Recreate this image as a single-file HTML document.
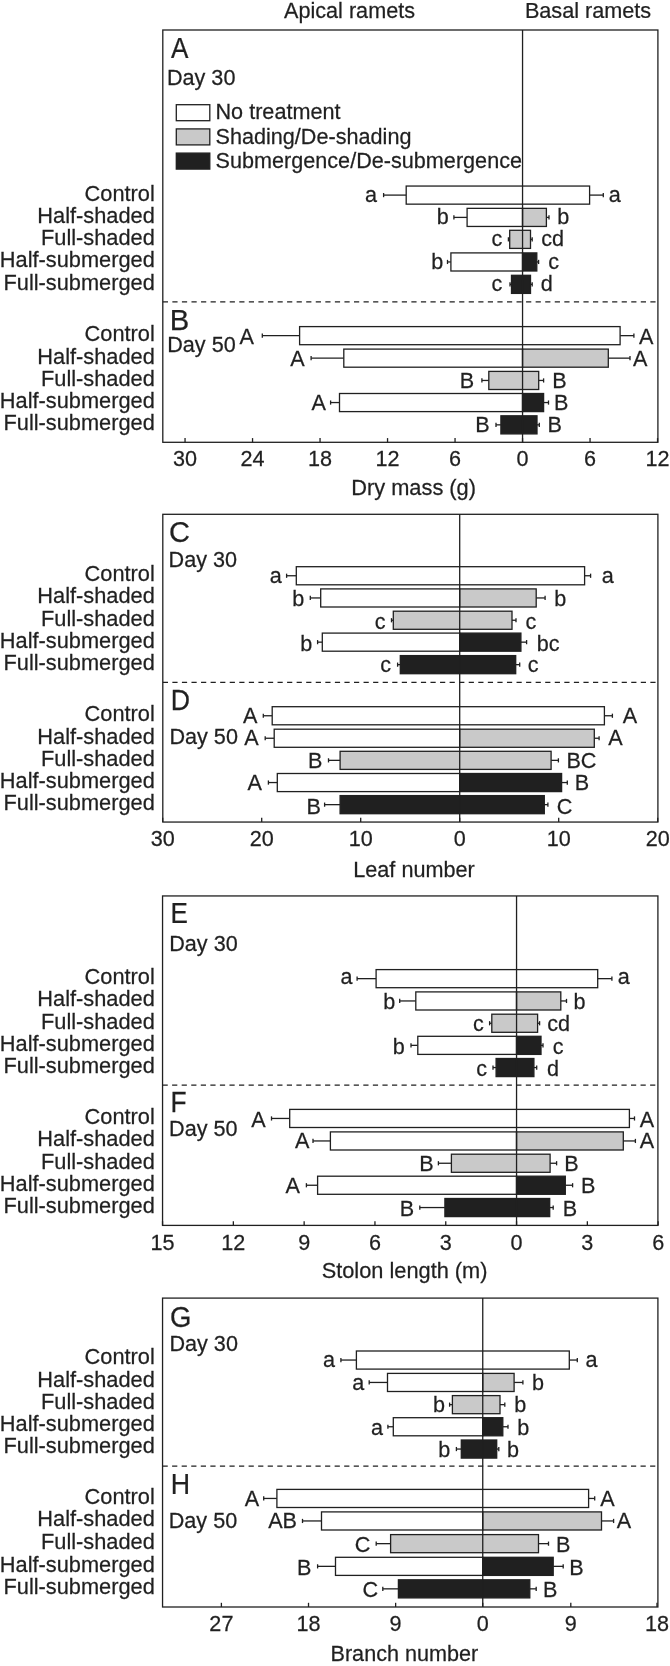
<!DOCTYPE html>
<html><head><meta charset="utf-8"><title>Figure</title>
<style>
html,body{margin:0;padding:0;background:#fff;}
svg{display:block;filter:grayscale(1);}
text{font-family:"Liberation Sans",sans-serif;fill:#231f20;stroke:#231f20;stroke-width:0.25px;}
</style></head><body>
<svg width="670" height="1666" viewBox="0 0 670 1666">
<rect x="0" y="0" width="670" height="1666" fill="#ffffff"/>
<text transform="translate(284.00,18.30) scale(0.997,1)" text-anchor="start" font-size="21.7">Apical ramets</text>
<text transform="translate(524.90,18.30) scale(0.998,1)" text-anchor="start" font-size="21.7">Basal ramets</text>
<rect x="162.8" y="30.0" width="495.10" height="412.30" fill="none" stroke="#231f20" stroke-width="1.3"/>
<line x1="162.80" y1="301.90" x2="657.90" y2="301.90" stroke="#231f20" stroke-width="1.3" stroke-dasharray="5.2 4.36"/>
<text transform="translate(170.90,57.50) scale(0.9,1)" text-anchor="start" font-size="29.0">A</text>
<text transform="translate(166.90,84.70) scale(0.997,1)" text-anchor="start" font-size="21.7">Day 30</text>
<rect x="176.30" y="104.70" width="33.50" height="16.00" fill="#ffffff" stroke="#231f20" stroke-width="1.3"/>
<text transform="translate(215.50,119.20) scale(0.997,1)" text-anchor="start" font-size="21.7">No treatment</text>
<rect x="176.30" y="128.90" width="33.50" height="16.00" fill="#c8c9cb" stroke="#231f20" stroke-width="1.3"/>
<text transform="translate(215.50,143.60) scale(0.997,1)" text-anchor="start" font-size="21.7">Shading/De-shading</text>
<rect x="176.30" y="153.10" width="33.50" height="16.00" fill="#231f20" stroke="#231f20" stroke-width="1.3"/>
<text transform="translate(215.50,168.00) scale(0.997,1)" text-anchor="start" font-size="21.7">Submergence/De-submergence</text>
<text transform="translate(154.80,200.55) scale(1.004,1)" text-anchor="end" font-size="21.7">Control</text>
<text transform="translate(154.80,222.85) scale(1.004,1)" text-anchor="end" font-size="21.7">Half-shaded</text>
<text transform="translate(154.80,244.80) scale(1.004,1)" text-anchor="end" font-size="21.7">Full-shaded</text>
<text transform="translate(154.80,267.40) scale(1.004,1)" text-anchor="end" font-size="21.7">Half-submerged</text>
<text transform="translate(154.80,289.80) scale(1.004,1)" text-anchor="end" font-size="21.7">Full-submerged</text>
<line x1="383.60" y1="195.10" x2="406.20" y2="195.10" stroke="#231f20" stroke-width="1.3"/>
<line x1="383.60" y1="193.00" x2="383.60" y2="197.20" stroke="#231f20" stroke-width="1.3"/>
<line x1="589.60" y1="195.10" x2="603.30" y2="195.10" stroke="#231f20" stroke-width="1.3"/>
<line x1="603.30" y1="193.00" x2="603.30" y2="197.20" stroke="#231f20" stroke-width="1.3"/>
<rect x="406.20" y="186.05" width="183.40" height="18.10" fill="#ffffff" stroke="#231f20" stroke-width="1.3"/>
<text transform="translate(371.05,202.15) scale(0.997,1)" text-anchor="middle" font-size="21.7">a</text>
<text transform="translate(614.70,202.15) scale(0.997,1)" text-anchor="middle" font-size="21.7">a</text>
<line x1="453.90" y1="217.40" x2="467.10" y2="217.40" stroke="#231f20" stroke-width="1.3"/>
<line x1="453.90" y1="215.30" x2="453.90" y2="219.50" stroke="#231f20" stroke-width="1.3"/>
<line x1="546.40" y1="217.40" x2="549.00" y2="217.40" stroke="#231f20" stroke-width="1.3"/>
<line x1="549.00" y1="215.30" x2="549.00" y2="219.50" stroke="#231f20" stroke-width="1.3"/>
<rect x="467.10" y="208.35" width="55.45" height="18.10" fill="#ffffff" stroke="#231f20" stroke-width="1.3"/>
<rect x="522.55" y="208.35" width="23.85" height="18.10" fill="#c8c9cb" stroke="#231f20" stroke-width="1.3"/>
<text transform="translate(442.85,224.45) scale(0.997,1)" text-anchor="middle" font-size="21.7">b</text>
<text transform="translate(563.20,224.45) scale(0.997,1)" text-anchor="middle" font-size="21.7">b</text>
<line x1="508.40" y1="239.35" x2="509.70" y2="239.35" stroke="#231f20" stroke-width="1.3"/>
<line x1="508.40" y1="237.25" x2="508.40" y2="241.45" stroke="#231f20" stroke-width="1.3"/>
<line x1="530.50" y1="239.35" x2="532.20" y2="239.35" stroke="#231f20" stroke-width="1.3"/>
<line x1="532.20" y1="237.25" x2="532.20" y2="241.45" stroke="#231f20" stroke-width="1.3"/>
<rect x="509.70" y="230.30" width="20.80" height="18.10" fill="#c8c9cb" stroke="#231f20" stroke-width="1.3"/>
<text transform="translate(497.00,246.40) scale(0.997,1)" text-anchor="middle" font-size="21.7">c</text>
<text transform="translate(552.70,246.40) scale(0.997,1)" text-anchor="middle" font-size="21.7">cd</text>
<line x1="447.50" y1="261.95" x2="450.90" y2="261.95" stroke="#231f20" stroke-width="1.3"/>
<line x1="447.50" y1="259.85" x2="447.50" y2="264.05" stroke="#231f20" stroke-width="1.3"/>
<line x1="536.80" y1="261.95" x2="538.60" y2="261.95" stroke="#231f20" stroke-width="1.3"/>
<line x1="538.60" y1="259.85" x2="538.60" y2="264.05" stroke="#231f20" stroke-width="1.3"/>
<rect x="450.90" y="252.90" width="71.65" height="18.10" fill="#ffffff" stroke="#231f20" stroke-width="1.3"/>
<rect x="522.55" y="252.90" width="14.25" height="18.10" fill="#231f20" stroke="#231f20" stroke-width="1.3"/>
<text transform="translate(437.15,269.00) scale(0.997,1)" text-anchor="middle" font-size="21.7">b</text>
<text transform="translate(553.55,269.00) scale(0.997,1)" text-anchor="middle" font-size="21.7">c</text>
<line x1="510.00" y1="284.35" x2="511.50" y2="284.35" stroke="#231f20" stroke-width="1.3"/>
<line x1="510.00" y1="282.25" x2="510.00" y2="286.45" stroke="#231f20" stroke-width="1.3"/>
<line x1="530.50" y1="284.35" x2="532.20" y2="284.35" stroke="#231f20" stroke-width="1.3"/>
<line x1="532.20" y1="282.25" x2="532.20" y2="286.45" stroke="#231f20" stroke-width="1.3"/>
<rect x="511.50" y="275.30" width="19.00" height="18.10" fill="#231f20" stroke="#231f20" stroke-width="1.3"/>
<text transform="translate(497.00,291.40) scale(0.997,1)" text-anchor="middle" font-size="21.7">c</text>
<text transform="translate(546.70,291.40) scale(0.997,1)" text-anchor="middle" font-size="21.7">d</text>
<text transform="translate(169.80,329.50) scale(1.0,1)" text-anchor="start" font-size="29.2">B</text>
<text transform="translate(167.20,352.30) scale(0.997,1)" text-anchor="start" font-size="21.7">Day 50</text>
<text transform="translate(154.80,341.10) scale(1.004,1)" text-anchor="end" font-size="21.7">Control</text>
<text transform="translate(154.80,363.60) scale(1.004,1)" text-anchor="end" font-size="21.7">Half-shaded</text>
<text transform="translate(154.80,385.90) scale(1.004,1)" text-anchor="end" font-size="21.7">Full-shaded</text>
<text transform="translate(154.80,408.00) scale(1.004,1)" text-anchor="end" font-size="21.7">Half-submerged</text>
<text transform="translate(154.80,430.30) scale(1.004,1)" text-anchor="end" font-size="21.7">Full-submerged</text>
<line x1="262.30" y1="335.65" x2="299.60" y2="335.65" stroke="#231f20" stroke-width="1.3"/>
<line x1="262.30" y1="333.55" x2="262.30" y2="337.75" stroke="#231f20" stroke-width="1.3"/>
<line x1="620.10" y1="335.65" x2="633.90" y2="335.65" stroke="#231f20" stroke-width="1.3"/>
<line x1="633.90" y1="333.55" x2="633.90" y2="337.75" stroke="#231f20" stroke-width="1.3"/>
<rect x="299.60" y="326.60" width="320.50" height="18.10" fill="#ffffff" stroke="#231f20" stroke-width="1.3"/>
<text transform="translate(246.70,343.70) scale(0.997,1)" text-anchor="middle" font-size="21.7">A</text>
<text transform="translate(646.25,343.70) scale(0.997,1)" text-anchor="middle" font-size="21.7">A</text>
<line x1="311.10" y1="358.15" x2="343.80" y2="358.15" stroke="#231f20" stroke-width="1.3"/>
<line x1="311.10" y1="356.05" x2="311.10" y2="360.25" stroke="#231f20" stroke-width="1.3"/>
<line x1="608.30" y1="358.15" x2="630.00" y2="358.15" stroke="#231f20" stroke-width="1.3"/>
<line x1="630.00" y1="356.05" x2="630.00" y2="360.25" stroke="#231f20" stroke-width="1.3"/>
<rect x="343.80" y="349.10" width="178.75" height="18.10" fill="#ffffff" stroke="#231f20" stroke-width="1.3"/>
<rect x="522.55" y="349.10" width="85.75" height="18.10" fill="#c8c9cb" stroke="#231f20" stroke-width="1.3"/>
<text transform="translate(297.45,365.70) scale(0.997,1)" text-anchor="middle" font-size="21.7">A</text>
<text transform="translate(640.15,365.70) scale(0.997,1)" text-anchor="middle" font-size="21.7">A</text>
<line x1="481.90" y1="380.45" x2="488.80" y2="380.45" stroke="#231f20" stroke-width="1.3"/>
<line x1="481.90" y1="378.35" x2="481.90" y2="382.55" stroke="#231f20" stroke-width="1.3"/>
<line x1="538.70" y1="380.45" x2="543.60" y2="380.45" stroke="#231f20" stroke-width="1.3"/>
<line x1="543.60" y1="378.35" x2="543.60" y2="382.55" stroke="#231f20" stroke-width="1.3"/>
<rect x="488.80" y="371.40" width="49.90" height="18.10" fill="#c8c9cb" stroke="#231f20" stroke-width="1.3"/>
<text transform="translate(466.90,387.50) scale(0.997,1)" text-anchor="middle" font-size="21.7">B</text>
<text transform="translate(559.50,387.50) scale(0.997,1)" text-anchor="middle" font-size="21.7">B</text>
<line x1="330.60" y1="402.55" x2="339.50" y2="402.55" stroke="#231f20" stroke-width="1.3"/>
<line x1="330.60" y1="400.45" x2="330.60" y2="404.65" stroke="#231f20" stroke-width="1.3"/>
<line x1="543.60" y1="402.55" x2="548.50" y2="402.55" stroke="#231f20" stroke-width="1.3"/>
<line x1="548.50" y1="400.45" x2="548.50" y2="404.65" stroke="#231f20" stroke-width="1.3"/>
<rect x="339.50" y="393.50" width="183.05" height="18.10" fill="#ffffff" stroke="#231f20" stroke-width="1.3"/>
<rect x="522.55" y="393.50" width="21.05" height="18.10" fill="#231f20" stroke="#231f20" stroke-width="1.3"/>
<text transform="translate(318.65,409.60) scale(0.997,1)" text-anchor="middle" font-size="21.7">A</text>
<text transform="translate(561.10,409.60) scale(0.997,1)" text-anchor="middle" font-size="21.7">B</text>
<line x1="496.00" y1="424.85" x2="500.90" y2="424.85" stroke="#231f20" stroke-width="1.3"/>
<line x1="496.00" y1="422.75" x2="496.00" y2="426.95" stroke="#231f20" stroke-width="1.3"/>
<line x1="537.00" y1="424.85" x2="539.30" y2="424.85" stroke="#231f20" stroke-width="1.3"/>
<line x1="539.30" y1="422.75" x2="539.30" y2="426.95" stroke="#231f20" stroke-width="1.3"/>
<rect x="500.90" y="415.80" width="36.10" height="18.10" fill="#231f20" stroke="#231f20" stroke-width="1.3"/>
<text transform="translate(482.35,431.90) scale(0.997,1)" text-anchor="middle" font-size="21.7">B</text>
<text transform="translate(554.60,431.90) scale(0.997,1)" text-anchor="middle" font-size="21.7">B</text>
<line x1="522.55" y1="30.00" x2="522.55" y2="442.30" stroke="#231f20" stroke-width="1.3"/>
<line x1="185.05" y1="442.30" x2="185.05" y2="438.10" stroke="#231f20" stroke-width="1.3"/>
<text transform="translate(185.05,465.60) scale(0.997,1)" text-anchor="middle" font-size="21.7">30</text>
<line x1="252.55" y1="442.30" x2="252.55" y2="438.10" stroke="#231f20" stroke-width="1.3"/>
<text transform="translate(252.55,465.60) scale(0.997,1)" text-anchor="middle" font-size="21.7">24</text>
<line x1="320.05" y1="442.30" x2="320.05" y2="438.10" stroke="#231f20" stroke-width="1.3"/>
<text transform="translate(320.05,465.60) scale(0.997,1)" text-anchor="middle" font-size="21.7">18</text>
<line x1="387.55" y1="442.30" x2="387.55" y2="438.10" stroke="#231f20" stroke-width="1.3"/>
<text transform="translate(387.55,465.60) scale(0.997,1)" text-anchor="middle" font-size="21.7">12</text>
<line x1="455.05" y1="442.30" x2="455.05" y2="438.10" stroke="#231f20" stroke-width="1.3"/>
<text transform="translate(455.05,465.60) scale(0.997,1)" text-anchor="middle" font-size="21.7">6</text>
<line x1="522.55" y1="442.30" x2="522.55" y2="438.10" stroke="#231f20" stroke-width="1.3"/>
<text transform="translate(522.55,465.60) scale(0.997,1)" text-anchor="middle" font-size="21.7">0</text>
<line x1="590.05" y1="442.30" x2="590.05" y2="438.10" stroke="#231f20" stroke-width="1.3"/>
<text transform="translate(590.05,465.60) scale(0.997,1)" text-anchor="middle" font-size="21.7">6</text>
<line x1="657.55" y1="442.30" x2="657.55" y2="438.10" stroke="#231f20" stroke-width="1.3"/>
<text transform="translate(657.55,465.60) scale(0.997,1)" text-anchor="middle" font-size="21.7">12</text>
<text transform="translate(413.60,494.60) scale(1.006,1)" text-anchor="middle" font-size="21.7">Dry mass (g)</text>
<rect x="162.8" y="514.3" width="495.10" height="307.75" fill="none" stroke="#231f20" stroke-width="1.3"/>
<line x1="162.80" y1="682.40" x2="657.90" y2="682.40" stroke="#231f20" stroke-width="1.3" stroke-dasharray="5.2 4.36"/>
<text transform="translate(169.10,542.30) scale(1.0,1)" text-anchor="start" font-size="29.0">C</text>
<text transform="translate(168.60,566.80) scale(0.997,1)" text-anchor="start" font-size="21.7">Day 30</text>
<text transform="translate(154.80,581.20) scale(1.004,1)" text-anchor="end" font-size="21.7">Control</text>
<text transform="translate(154.80,603.40) scale(1.004,1)" text-anchor="end" font-size="21.7">Half-shaded</text>
<text transform="translate(154.80,625.70) scale(1.004,1)" text-anchor="end" font-size="21.7">Full-shaded</text>
<text transform="translate(154.80,647.60) scale(1.004,1)" text-anchor="end" font-size="21.7">Half-submerged</text>
<text transform="translate(154.80,670.10) scale(1.004,1)" text-anchor="end" font-size="21.7">Full-submerged</text>
<line x1="286.60" y1="575.75" x2="296.30" y2="575.75" stroke="#231f20" stroke-width="1.3"/>
<line x1="286.60" y1="573.65" x2="286.60" y2="577.85" stroke="#231f20" stroke-width="1.3"/>
<line x1="584.60" y1="575.75" x2="590.60" y2="575.75" stroke="#231f20" stroke-width="1.3"/>
<line x1="590.60" y1="573.65" x2="590.60" y2="577.85" stroke="#231f20" stroke-width="1.3"/>
<rect x="296.30" y="566.70" width="288.30" height="18.10" fill="#ffffff" stroke="#231f20" stroke-width="1.3"/>
<text transform="translate(275.75,583.40) scale(0.997,1)" text-anchor="middle" font-size="21.7">a</text>
<text transform="translate(607.75,583.40) scale(0.997,1)" text-anchor="middle" font-size="21.7">a</text>
<line x1="310.30" y1="597.95" x2="320.70" y2="597.95" stroke="#231f20" stroke-width="1.3"/>
<line x1="310.30" y1="595.85" x2="310.30" y2="600.05" stroke="#231f20" stroke-width="1.3"/>
<line x1="536.20" y1="597.95" x2="545.10" y2="597.95" stroke="#231f20" stroke-width="1.3"/>
<line x1="545.10" y1="595.85" x2="545.10" y2="600.05" stroke="#231f20" stroke-width="1.3"/>
<rect x="320.70" y="588.90" width="139.00" height="18.10" fill="#ffffff" stroke="#231f20" stroke-width="1.3"/>
<rect x="459.70" y="588.90" width="76.50" height="18.10" fill="#c8c9cb" stroke="#231f20" stroke-width="1.3"/>
<text transform="translate(298.20,606.00) scale(0.997,1)" text-anchor="middle" font-size="21.7">b</text>
<text transform="translate(560.25,606.00) scale(0.997,1)" text-anchor="middle" font-size="21.7">b</text>
<line x1="391.50" y1="620.25" x2="393.30" y2="620.25" stroke="#231f20" stroke-width="1.3"/>
<line x1="391.50" y1="618.15" x2="391.50" y2="622.35" stroke="#231f20" stroke-width="1.3"/>
<line x1="512.00" y1="620.25" x2="516.00" y2="620.25" stroke="#231f20" stroke-width="1.3"/>
<line x1="516.00" y1="618.15" x2="516.00" y2="622.35" stroke="#231f20" stroke-width="1.3"/>
<rect x="393.30" y="611.20" width="118.70" height="18.10" fill="#c8c9cb" stroke="#231f20" stroke-width="1.3"/>
<text transform="translate(380.25,628.60) scale(0.997,1)" text-anchor="middle" font-size="21.7">c</text>
<text transform="translate(531.00,628.60) scale(0.997,1)" text-anchor="middle" font-size="21.7">c</text>
<line x1="317.60" y1="642.15" x2="322.30" y2="642.15" stroke="#231f20" stroke-width="1.3"/>
<line x1="317.60" y1="640.05" x2="317.60" y2="644.25" stroke="#231f20" stroke-width="1.3"/>
<line x1="520.90" y1="642.15" x2="526.60" y2="642.15" stroke="#231f20" stroke-width="1.3"/>
<line x1="526.60" y1="640.05" x2="526.60" y2="644.25" stroke="#231f20" stroke-width="1.3"/>
<rect x="322.30" y="633.10" width="137.40" height="18.10" fill="#ffffff" stroke="#231f20" stroke-width="1.3"/>
<rect x="459.70" y="633.10" width="61.20" height="18.10" fill="#231f20" stroke="#231f20" stroke-width="1.3"/>
<text transform="translate(306.20,650.50) scale(0.997,1)" text-anchor="middle" font-size="21.7">b</text>
<text transform="translate(548.10,650.50) scale(0.997,1)" text-anchor="middle" font-size="21.7">bc</text>
<line x1="397.60" y1="664.65" x2="400.30" y2="664.65" stroke="#231f20" stroke-width="1.3"/>
<line x1="397.60" y1="662.55" x2="397.60" y2="666.75" stroke="#231f20" stroke-width="1.3"/>
<line x1="515.70" y1="664.65" x2="519.70" y2="664.65" stroke="#231f20" stroke-width="1.3"/>
<line x1="519.70" y1="662.55" x2="519.70" y2="666.75" stroke="#231f20" stroke-width="1.3"/>
<rect x="400.30" y="655.60" width="115.40" height="18.10" fill="#231f20" stroke="#231f20" stroke-width="1.3"/>
<text transform="translate(385.75,672.30) scale(0.997,1)" text-anchor="middle" font-size="21.7">c</text>
<text transform="translate(533.25,672.30) scale(0.997,1)" text-anchor="middle" font-size="21.7">c</text>
<text transform="translate(170.80,710.20) scale(0.92,1)" text-anchor="start" font-size="29.0">D</text>
<text transform="translate(169.40,744.00) scale(0.997,1)" text-anchor="start" font-size="21.7">Day 50</text>
<text transform="translate(154.80,721.20) scale(1.004,1)" text-anchor="end" font-size="21.7">Control</text>
<text transform="translate(154.80,743.70) scale(1.004,1)" text-anchor="end" font-size="21.7">Half-shaded</text>
<text transform="translate(154.80,765.80) scale(1.004,1)" text-anchor="end" font-size="21.7">Full-shaded</text>
<text transform="translate(154.80,788.00) scale(1.004,1)" text-anchor="end" font-size="21.7">Half-submerged</text>
<text transform="translate(154.80,810.10) scale(1.004,1)" text-anchor="end" font-size="21.7">Full-submerged</text>
<line x1="263.30" y1="715.75" x2="272.20" y2="715.75" stroke="#231f20" stroke-width="1.3"/>
<line x1="263.30" y1="713.65" x2="263.30" y2="717.85" stroke="#231f20" stroke-width="1.3"/>
<line x1="604.40" y1="715.75" x2="612.40" y2="715.75" stroke="#231f20" stroke-width="1.3"/>
<line x1="612.40" y1="713.65" x2="612.40" y2="717.85" stroke="#231f20" stroke-width="1.3"/>
<rect x="272.20" y="706.70" width="332.20" height="18.10" fill="#ffffff" stroke="#231f20" stroke-width="1.3"/>
<text transform="translate(250.25,723.40) scale(0.997,1)" text-anchor="middle" font-size="21.7">A</text>
<text transform="translate(629.95,723.40) scale(0.997,1)" text-anchor="middle" font-size="21.7">A</text>
<line x1="265.20" y1="738.25" x2="274.20" y2="738.25" stroke="#231f20" stroke-width="1.3"/>
<line x1="265.20" y1="736.15" x2="265.20" y2="740.35" stroke="#231f20" stroke-width="1.3"/>
<line x1="594.30" y1="738.25" x2="599.10" y2="738.25" stroke="#231f20" stroke-width="1.3"/>
<line x1="599.10" y1="736.15" x2="599.10" y2="740.35" stroke="#231f20" stroke-width="1.3"/>
<rect x="274.20" y="729.20" width="185.50" height="18.10" fill="#ffffff" stroke="#231f20" stroke-width="1.3"/>
<rect x="459.70" y="729.20" width="134.60" height="18.10" fill="#c8c9cb" stroke="#231f20" stroke-width="1.3"/>
<text transform="translate(251.45,745.30) scale(0.997,1)" text-anchor="middle" font-size="21.7">A</text>
<text transform="translate(615.45,745.30) scale(0.997,1)" text-anchor="middle" font-size="21.7">A</text>
<line x1="328.50" y1="760.35" x2="340.10" y2="760.35" stroke="#231f20" stroke-width="1.3"/>
<line x1="328.50" y1="758.25" x2="328.50" y2="762.45" stroke="#231f20" stroke-width="1.3"/>
<line x1="551.10" y1="760.35" x2="558.40" y2="760.35" stroke="#231f20" stroke-width="1.3"/>
<line x1="558.40" y1="758.25" x2="558.40" y2="762.45" stroke="#231f20" stroke-width="1.3"/>
<rect x="340.10" y="751.30" width="211.00" height="18.10" fill="#c8c9cb" stroke="#231f20" stroke-width="1.3"/>
<text transform="translate(315.25,768.30) scale(0.997,1)" text-anchor="middle" font-size="21.7">B</text>
<text transform="translate(581.40,768.30) scale(0.997,1)" text-anchor="middle" font-size="21.7">BC</text>
<line x1="268.40" y1="782.55" x2="277.30" y2="782.55" stroke="#231f20" stroke-width="1.3"/>
<line x1="268.40" y1="780.45" x2="268.40" y2="784.65" stroke="#231f20" stroke-width="1.3"/>
<line x1="561.60" y1="782.55" x2="567.30" y2="782.55" stroke="#231f20" stroke-width="1.3"/>
<line x1="567.30" y1="780.45" x2="567.30" y2="784.65" stroke="#231f20" stroke-width="1.3"/>
<rect x="277.30" y="773.50" width="182.40" height="18.10" fill="#ffffff" stroke="#231f20" stroke-width="1.3"/>
<rect x="459.70" y="773.50" width="101.90" height="18.10" fill="#231f20" stroke="#231f20" stroke-width="1.3"/>
<text transform="translate(254.80,790.30) scale(0.997,1)" text-anchor="middle" font-size="21.7">A</text>
<text transform="translate(581.95,790.30) scale(0.997,1)" text-anchor="middle" font-size="21.7">B</text>
<line x1="324.60" y1="804.65" x2="340.10" y2="804.65" stroke="#231f20" stroke-width="1.3"/>
<line x1="324.60" y1="802.55" x2="324.60" y2="806.75" stroke="#231f20" stroke-width="1.3"/>
<line x1="544.30" y1="804.65" x2="547.90" y2="804.65" stroke="#231f20" stroke-width="1.3"/>
<line x1="547.90" y1="802.55" x2="547.90" y2="806.75" stroke="#231f20" stroke-width="1.3"/>
<rect x="340.10" y="795.60" width="204.20" height="18.10" fill="#231f20" stroke="#231f20" stroke-width="1.3"/>
<text transform="translate(313.60,813.70) scale(0.997,1)" text-anchor="middle" font-size="21.7">B</text>
<text transform="translate(564.65,813.70) scale(0.997,1)" text-anchor="middle" font-size="21.7">C</text>
<line x1="459.70" y1="514.30" x2="459.70" y2="822.05" stroke="#231f20" stroke-width="1.3"/>
<line x1="162.70" y1="822.05" x2="162.70" y2="817.85" stroke="#231f20" stroke-width="1.3"/>
<text transform="translate(162.70,845.70) scale(0.997,1)" text-anchor="middle" font-size="21.7">30</text>
<line x1="261.70" y1="822.05" x2="261.70" y2="817.85" stroke="#231f20" stroke-width="1.3"/>
<text transform="translate(261.70,845.70) scale(0.997,1)" text-anchor="middle" font-size="21.7">20</text>
<line x1="360.70" y1="822.05" x2="360.70" y2="817.85" stroke="#231f20" stroke-width="1.3"/>
<text transform="translate(360.70,845.70) scale(0.997,1)" text-anchor="middle" font-size="21.7">10</text>
<line x1="459.70" y1="822.05" x2="459.70" y2="817.85" stroke="#231f20" stroke-width="1.3"/>
<text transform="translate(459.70,845.70) scale(0.997,1)" text-anchor="middle" font-size="21.7">0</text>
<line x1="558.70" y1="822.05" x2="558.70" y2="817.85" stroke="#231f20" stroke-width="1.3"/>
<text transform="translate(558.70,845.70) scale(0.997,1)" text-anchor="middle" font-size="21.7">10</text>
<line x1="657.70" y1="822.05" x2="657.70" y2="817.85" stroke="#231f20" stroke-width="1.3"/>
<text transform="translate(657.70,845.70) scale(0.997,1)" text-anchor="middle" font-size="21.7">20</text>
<text transform="translate(414.00,876.50) scale(0.997,1)" text-anchor="middle" font-size="21.7">Leaf number</text>
<rect x="162.55" y="895.95" width="495.35" height="329.45" fill="none" stroke="#231f20" stroke-width="1.3"/>
<line x1="162.55" y1="1085.20" x2="657.90" y2="1085.20" stroke="#231f20" stroke-width="1.3" stroke-dasharray="5.2 4.36"/>
<text transform="translate(170.60,922.70) scale(0.91,1)" text-anchor="start" font-size="28.6">E</text>
<text transform="translate(169.20,951.00) scale(0.997,1)" text-anchor="start" font-size="21.7">Day 30</text>
<text transform="translate(154.80,984.10) scale(1.004,1)" text-anchor="end" font-size="21.7">Control</text>
<text transform="translate(154.80,1006.40) scale(1.004,1)" text-anchor="end" font-size="21.7">Half-shaded</text>
<text transform="translate(154.80,1028.70) scale(1.004,1)" text-anchor="end" font-size="21.7">Full-shaded</text>
<text transform="translate(154.80,1050.80) scale(1.004,1)" text-anchor="end" font-size="21.7">Half-submerged</text>
<text transform="translate(154.80,1073.00) scale(1.004,1)" text-anchor="end" font-size="21.7">Full-submerged</text>
<line x1="357.10" y1="978.65" x2="376.10" y2="978.65" stroke="#231f20" stroke-width="1.3"/>
<line x1="357.10" y1="976.55" x2="357.10" y2="980.75" stroke="#231f20" stroke-width="1.3"/>
<line x1="597.70" y1="978.65" x2="611.90" y2="978.65" stroke="#231f20" stroke-width="1.3"/>
<line x1="611.90" y1="976.55" x2="611.90" y2="980.75" stroke="#231f20" stroke-width="1.3"/>
<rect x="376.10" y="969.60" width="221.60" height="18.10" fill="#ffffff" stroke="#231f20" stroke-width="1.3"/>
<text transform="translate(346.60,983.90) scale(0.997,1)" text-anchor="middle" font-size="21.7">a</text>
<text transform="translate(623.65,983.90) scale(0.997,1)" text-anchor="middle" font-size="21.7">a</text>
<line x1="399.70" y1="1000.95" x2="415.80" y2="1000.95" stroke="#231f20" stroke-width="1.3"/>
<line x1="399.70" y1="998.85" x2="399.70" y2="1003.05" stroke="#231f20" stroke-width="1.3"/>
<line x1="560.80" y1="1000.95" x2="566.50" y2="1000.95" stroke="#231f20" stroke-width="1.3"/>
<line x1="566.50" y1="998.85" x2="566.50" y2="1003.05" stroke="#231f20" stroke-width="1.3"/>
<rect x="415.80" y="991.90" width="100.75" height="18.10" fill="#ffffff" stroke="#231f20" stroke-width="1.3"/>
<rect x="516.55" y="991.90" width="44.25" height="18.10" fill="#c8c9cb" stroke="#231f20" stroke-width="1.3"/>
<text transform="translate(389.20,1009.30) scale(0.997,1)" text-anchor="middle" font-size="21.7">b</text>
<text transform="translate(579.55,1009.30) scale(0.997,1)" text-anchor="middle" font-size="21.7">b</text>
<line x1="489.60" y1="1023.25" x2="491.80" y2="1023.25" stroke="#231f20" stroke-width="1.3"/>
<line x1="489.60" y1="1021.15" x2="489.60" y2="1025.35" stroke="#231f20" stroke-width="1.3"/>
<line x1="537.60" y1="1023.25" x2="539.60" y2="1023.25" stroke="#231f20" stroke-width="1.3"/>
<line x1="539.60" y1="1021.15" x2="539.60" y2="1025.35" stroke="#231f20" stroke-width="1.3"/>
<rect x="491.80" y="1014.20" width="45.80" height="18.10" fill="#c8c9cb" stroke="#231f20" stroke-width="1.3"/>
<text transform="translate(478.35,1031.20) scale(0.997,1)" text-anchor="middle" font-size="21.7">c</text>
<text transform="translate(558.70,1031.20) scale(0.997,1)" text-anchor="middle" font-size="21.7">cd</text>
<line x1="411.00" y1="1045.35" x2="417.80" y2="1045.35" stroke="#231f20" stroke-width="1.3"/>
<line x1="411.00" y1="1043.25" x2="411.00" y2="1047.45" stroke="#231f20" stroke-width="1.3"/>
<line x1="541.00" y1="1045.35" x2="543.00" y2="1045.35" stroke="#231f20" stroke-width="1.3"/>
<line x1="543.00" y1="1043.25" x2="543.00" y2="1047.45" stroke="#231f20" stroke-width="1.3"/>
<rect x="417.80" y="1036.30" width="98.75" height="18.10" fill="#ffffff" stroke="#231f20" stroke-width="1.3"/>
<rect x="516.55" y="1036.30" width="24.45" height="18.10" fill="#231f20" stroke="#231f20" stroke-width="1.3"/>
<text transform="translate(398.80,1054.20) scale(0.997,1)" text-anchor="middle" font-size="21.7">b</text>
<text transform="translate(558.15,1054.20) scale(0.997,1)" text-anchor="middle" font-size="21.7">c</text>
<line x1="493.00" y1="1067.55" x2="496.10" y2="1067.55" stroke="#231f20" stroke-width="1.3"/>
<line x1="493.00" y1="1065.45" x2="493.00" y2="1069.65" stroke="#231f20" stroke-width="1.3"/>
<line x1="533.90" y1="1067.55" x2="536.70" y2="1067.55" stroke="#231f20" stroke-width="1.3"/>
<line x1="536.70" y1="1065.45" x2="536.70" y2="1069.65" stroke="#231f20" stroke-width="1.3"/>
<rect x="496.10" y="1058.50" width="37.80" height="18.10" fill="#231f20" stroke="#231f20" stroke-width="1.3"/>
<text transform="translate(481.75,1075.50) scale(0.997,1)" text-anchor="middle" font-size="21.7">c</text>
<text transform="translate(553.05,1075.50) scale(0.997,1)" text-anchor="middle" font-size="21.7">d</text>
<text transform="translate(170.60,1112.20) scale(0.92,1)" text-anchor="start" font-size="28.6">F</text>
<text transform="translate(169.10,1136.10) scale(0.997,1)" text-anchor="start" font-size="21.7">Day 50</text>
<text transform="translate(154.80,1123.90) scale(1.004,1)" text-anchor="end" font-size="21.7">Control</text>
<text transform="translate(154.80,1146.40) scale(1.004,1)" text-anchor="end" font-size="21.7">Half-shaded</text>
<text transform="translate(154.80,1168.70) scale(1.004,1)" text-anchor="end" font-size="21.7">Full-shaded</text>
<text transform="translate(154.80,1190.70) scale(1.004,1)" text-anchor="end" font-size="21.7">Half-submerged</text>
<text transform="translate(154.80,1213.00) scale(1.004,1)" text-anchor="end" font-size="21.7">Full-submerged</text>
<line x1="271.50" y1="1118.45" x2="289.70" y2="1118.45" stroke="#231f20" stroke-width="1.3"/>
<line x1="271.50" y1="1116.35" x2="271.50" y2="1120.55" stroke="#231f20" stroke-width="1.3"/>
<line x1="629.40" y1="1118.45" x2="634.50" y2="1118.45" stroke="#231f20" stroke-width="1.3"/>
<line x1="634.50" y1="1116.35" x2="634.50" y2="1120.55" stroke="#231f20" stroke-width="1.3"/>
<rect x="289.70" y="1109.40" width="339.70" height="18.10" fill="#ffffff" stroke="#231f20" stroke-width="1.3"/>
<text transform="translate(258.50,1127.00) scale(0.997,1)" text-anchor="middle" font-size="21.7">A</text>
<text transform="translate(646.85,1127.00) scale(0.997,1)" text-anchor="middle" font-size="21.7">A</text>
<line x1="313.00" y1="1140.95" x2="330.40" y2="1140.95" stroke="#231f20" stroke-width="1.3"/>
<line x1="313.00" y1="1138.85" x2="313.00" y2="1143.05" stroke="#231f20" stroke-width="1.3"/>
<line x1="623.30" y1="1140.95" x2="635.40" y2="1140.95" stroke="#231f20" stroke-width="1.3"/>
<line x1="635.40" y1="1138.85" x2="635.40" y2="1143.05" stroke="#231f20" stroke-width="1.3"/>
<rect x="330.40" y="1131.90" width="186.15" height="18.10" fill="#ffffff" stroke="#231f20" stroke-width="1.3"/>
<rect x="516.55" y="1131.90" width="106.75" height="18.10" fill="#c8c9cb" stroke="#231f20" stroke-width="1.3"/>
<text transform="translate(302.30,1148.00) scale(0.997,1)" text-anchor="middle" font-size="21.7">A</text>
<text transform="translate(646.85,1148.00) scale(0.997,1)" text-anchor="middle" font-size="21.7">A</text>
<line x1="438.40" y1="1163.25" x2="451.40" y2="1163.25" stroke="#231f20" stroke-width="1.3"/>
<line x1="438.40" y1="1161.15" x2="438.40" y2="1165.35" stroke="#231f20" stroke-width="1.3"/>
<line x1="550.10" y1="1163.25" x2="556.60" y2="1163.25" stroke="#231f20" stroke-width="1.3"/>
<line x1="556.60" y1="1161.15" x2="556.60" y2="1165.35" stroke="#231f20" stroke-width="1.3"/>
<rect x="451.40" y="1154.20" width="98.70" height="18.10" fill="#c8c9cb" stroke="#231f20" stroke-width="1.3"/>
<text transform="translate(426.55,1170.80) scale(0.997,1)" text-anchor="middle" font-size="21.7">B</text>
<text transform="translate(571.55,1170.80) scale(0.997,1)" text-anchor="middle" font-size="21.7">B</text>
<line x1="306.40" y1="1185.25" x2="317.60" y2="1185.25" stroke="#231f20" stroke-width="1.3"/>
<line x1="306.40" y1="1183.15" x2="306.40" y2="1187.35" stroke="#231f20" stroke-width="1.3"/>
<line x1="565.30" y1="1185.25" x2="572.60" y2="1185.25" stroke="#231f20" stroke-width="1.3"/>
<line x1="572.60" y1="1183.15" x2="572.60" y2="1187.35" stroke="#231f20" stroke-width="1.3"/>
<rect x="317.60" y="1176.20" width="198.95" height="18.10" fill="#ffffff" stroke="#231f20" stroke-width="1.3"/>
<rect x="516.55" y="1176.20" width="48.75" height="18.10" fill="#231f20" stroke="#231f20" stroke-width="1.3"/>
<text transform="translate(292.60,1193.30) scale(0.997,1)" text-anchor="middle" font-size="21.7">A</text>
<text transform="translate(588.25,1193.30) scale(0.997,1)" text-anchor="middle" font-size="21.7">B</text>
<line x1="419.80" y1="1207.55" x2="444.90" y2="1207.55" stroke="#231f20" stroke-width="1.3"/>
<line x1="419.80" y1="1205.45" x2="419.80" y2="1209.65" stroke="#231f20" stroke-width="1.3"/>
<line x1="549.70" y1="1207.55" x2="553.20" y2="1207.55" stroke="#231f20" stroke-width="1.3"/>
<line x1="553.20" y1="1205.45" x2="553.20" y2="1209.65" stroke="#231f20" stroke-width="1.3"/>
<rect x="444.90" y="1198.50" width="104.80" height="18.10" fill="#231f20" stroke="#231f20" stroke-width="1.3"/>
<text transform="translate(407.05,1215.60) scale(0.997,1)" text-anchor="middle" font-size="21.7">B</text>
<text transform="translate(570.05,1215.60) scale(0.997,1)" text-anchor="middle" font-size="21.7">B</text>
<line x1="516.55" y1="895.95" x2="516.55" y2="1225.40" stroke="#231f20" stroke-width="1.3"/>
<line x1="162.55" y1="1225.40" x2="162.55" y2="1221.20" stroke="#231f20" stroke-width="1.3"/>
<text transform="translate(162.55,1250.00) scale(0.997,1)" text-anchor="middle" font-size="21.7">15</text>
<line x1="233.35" y1="1225.40" x2="233.35" y2="1221.20" stroke="#231f20" stroke-width="1.3"/>
<text transform="translate(233.35,1250.00) scale(0.997,1)" text-anchor="middle" font-size="21.7">12</text>
<line x1="304.15" y1="1225.40" x2="304.15" y2="1221.20" stroke="#231f20" stroke-width="1.3"/>
<text transform="translate(304.15,1250.00) scale(0.997,1)" text-anchor="middle" font-size="21.7">9</text>
<line x1="374.95" y1="1225.40" x2="374.95" y2="1221.20" stroke="#231f20" stroke-width="1.3"/>
<text transform="translate(374.95,1250.00) scale(0.997,1)" text-anchor="middle" font-size="21.7">6</text>
<line x1="445.75" y1="1225.40" x2="445.75" y2="1221.20" stroke="#231f20" stroke-width="1.3"/>
<text transform="translate(445.75,1250.00) scale(0.997,1)" text-anchor="middle" font-size="21.7">3</text>
<line x1="516.55" y1="1225.40" x2="516.55" y2="1221.20" stroke="#231f20" stroke-width="1.3"/>
<text transform="translate(516.55,1250.00) scale(0.997,1)" text-anchor="middle" font-size="21.7">0</text>
<line x1="587.35" y1="1225.40" x2="587.35" y2="1221.20" stroke="#231f20" stroke-width="1.3"/>
<text transform="translate(587.35,1250.00) scale(0.997,1)" text-anchor="middle" font-size="21.7">3</text>
<line x1="658.15" y1="1225.40" x2="658.15" y2="1221.20" stroke="#231f20" stroke-width="1.3"/>
<text transform="translate(658.15,1250.00) scale(0.997,1)" text-anchor="middle" font-size="21.7">6</text>
<text transform="translate(404.60,1278.00) scale(1.004,1)" text-anchor="middle" font-size="21.7">Stolon length (m)</text>
<rect x="162.55" y="1298.1" width="495.35" height="308.90" fill="none" stroke="#231f20" stroke-width="1.3"/>
<line x1="162.55" y1="1466.10" x2="657.90" y2="1466.10" stroke="#231f20" stroke-width="1.3" stroke-dasharray="5.2 4.36"/>
<text transform="translate(170.10,1327.40) scale(0.95,1)" text-anchor="start" font-size="29.0">G</text>
<text transform="translate(169.40,1351.00) scale(0.997,1)" text-anchor="start" font-size="21.7">Day 30</text>
<text transform="translate(154.80,1364.30) scale(1.004,1)" text-anchor="end" font-size="21.7">Control</text>
<text transform="translate(154.80,1386.70) scale(1.004,1)" text-anchor="end" font-size="21.7">Half-shaded</text>
<text transform="translate(154.80,1408.90) scale(1.004,1)" text-anchor="end" font-size="21.7">Full-shaded</text>
<text transform="translate(154.80,1431.00) scale(1.004,1)" text-anchor="end" font-size="21.7">Half-submerged</text>
<text transform="translate(154.80,1453.30) scale(1.004,1)" text-anchor="end" font-size="21.7">Full-submerged</text>
<line x1="340.90" y1="1360.05" x2="356.40" y2="1360.05" stroke="#231f20" stroke-width="1.3"/>
<line x1="340.90" y1="1357.95" x2="340.90" y2="1362.15" stroke="#231f20" stroke-width="1.3"/>
<line x1="569.30" y1="1360.05" x2="577.30" y2="1360.05" stroke="#231f20" stroke-width="1.3"/>
<line x1="577.30" y1="1357.95" x2="577.30" y2="1362.15" stroke="#231f20" stroke-width="1.3"/>
<rect x="356.40" y="1351.00" width="212.90" height="18.10" fill="#ffffff" stroke="#231f20" stroke-width="1.3"/>
<text transform="translate(329.05,1367.10) scale(0.997,1)" text-anchor="middle" font-size="21.7">a</text>
<text transform="translate(591.45,1367.10) scale(0.997,1)" text-anchor="middle" font-size="21.7">a</text>
<line x1="369.20" y1="1382.45" x2="387.50" y2="1382.45" stroke="#231f20" stroke-width="1.3"/>
<line x1="369.20" y1="1380.35" x2="369.20" y2="1384.55" stroke="#231f20" stroke-width="1.3"/>
<line x1="514.10" y1="1382.45" x2="522.90" y2="1382.45" stroke="#231f20" stroke-width="1.3"/>
<line x1="522.90" y1="1380.35" x2="522.90" y2="1384.55" stroke="#231f20" stroke-width="1.3"/>
<rect x="387.50" y="1373.40" width="95.25" height="18.10" fill="#ffffff" stroke="#231f20" stroke-width="1.3"/>
<rect x="482.75" y="1373.40" width="31.35" height="18.10" fill="#c8c9cb" stroke="#231f20" stroke-width="1.3"/>
<text transform="translate(358.20,1389.50) scale(0.997,1)" text-anchor="middle" font-size="21.7">a</text>
<text transform="translate(538.05,1389.50) scale(0.997,1)" text-anchor="middle" font-size="21.7">b</text>
<line x1="449.60" y1="1404.65" x2="452.40" y2="1404.65" stroke="#231f20" stroke-width="1.3"/>
<line x1="449.60" y1="1402.55" x2="449.60" y2="1406.75" stroke="#231f20" stroke-width="1.3"/>
<line x1="500.00" y1="1404.65" x2="504.80" y2="1404.65" stroke="#231f20" stroke-width="1.3"/>
<line x1="504.80" y1="1402.55" x2="504.80" y2="1406.75" stroke="#231f20" stroke-width="1.3"/>
<rect x="452.40" y="1395.60" width="47.60" height="18.10" fill="#c8c9cb" stroke="#231f20" stroke-width="1.3"/>
<text transform="translate(438.90,1411.70) scale(0.997,1)" text-anchor="middle" font-size="21.7">b</text>
<text transform="translate(520.35,1411.70) scale(0.997,1)" text-anchor="middle" font-size="21.7">b</text>
<line x1="387.90" y1="1426.75" x2="393.30" y2="1426.75" stroke="#231f20" stroke-width="1.3"/>
<line x1="387.90" y1="1424.65" x2="387.90" y2="1428.85" stroke="#231f20" stroke-width="1.3"/>
<line x1="502.80" y1="1426.75" x2="508.00" y2="1426.75" stroke="#231f20" stroke-width="1.3"/>
<line x1="508.00" y1="1424.65" x2="508.00" y2="1428.85" stroke="#231f20" stroke-width="1.3"/>
<rect x="393.30" y="1417.70" width="89.45" height="18.10" fill="#ffffff" stroke="#231f20" stroke-width="1.3"/>
<rect x="482.75" y="1417.70" width="20.05" height="18.10" fill="#231f20" stroke="#231f20" stroke-width="1.3"/>
<text transform="translate(377.00,1434.60) scale(0.997,1)" text-anchor="middle" font-size="21.7">a</text>
<text transform="translate(523.15,1434.60) scale(0.997,1)" text-anchor="middle" font-size="21.7">b</text>
<line x1="456.40" y1="1449.05" x2="461.30" y2="1449.05" stroke="#231f20" stroke-width="1.3"/>
<line x1="456.40" y1="1446.95" x2="456.40" y2="1451.15" stroke="#231f20" stroke-width="1.3"/>
<line x1="496.70" y1="1449.05" x2="498.80" y2="1449.05" stroke="#231f20" stroke-width="1.3"/>
<line x1="498.80" y1="1446.95" x2="498.80" y2="1451.15" stroke="#231f20" stroke-width="1.3"/>
<rect x="461.30" y="1440.00" width="35.40" height="18.10" fill="#231f20" stroke="#231f20" stroke-width="1.3"/>
<text transform="translate(444.15,1456.60) scale(0.997,1)" text-anchor="middle" font-size="21.7">b</text>
<text transform="translate(513.05,1456.60) scale(0.997,1)" text-anchor="middle" font-size="21.7">b</text>
<text transform="translate(170.70,1493.80) scale(0.93,1)" text-anchor="start" font-size="28.8">H</text>
<text transform="translate(168.70,1527.50) scale(0.997,1)" text-anchor="start" font-size="21.7">Day 50</text>
<text transform="translate(154.80,1503.90) scale(1.004,1)" text-anchor="end" font-size="21.7">Control</text>
<text transform="translate(154.80,1526.40) scale(1.004,1)" text-anchor="end" font-size="21.7">Half-shaded</text>
<text transform="translate(154.80,1549.10) scale(1.004,1)" text-anchor="end" font-size="21.7">Full-shaded</text>
<text transform="translate(154.80,1571.80) scale(1.004,1)" text-anchor="end" font-size="21.7">Half-submerged</text>
<text transform="translate(154.80,1594.30) scale(1.004,1)" text-anchor="end" font-size="21.7">Full-submerged</text>
<line x1="263.70" y1="1498.45" x2="276.90" y2="1498.45" stroke="#231f20" stroke-width="1.3"/>
<line x1="263.70" y1="1496.35" x2="263.70" y2="1500.55" stroke="#231f20" stroke-width="1.3"/>
<line x1="588.60" y1="1498.45" x2="594.70" y2="1498.45" stroke="#231f20" stroke-width="1.3"/>
<line x1="594.70" y1="1496.35" x2="594.70" y2="1500.55" stroke="#231f20" stroke-width="1.3"/>
<rect x="276.90" y="1489.40" width="311.70" height="18.10" fill="#ffffff" stroke="#231f20" stroke-width="1.3"/>
<text transform="translate(251.90,1505.50) scale(0.997,1)" text-anchor="middle" font-size="21.7">A</text>
<text transform="translate(607.35,1505.50) scale(0.997,1)" text-anchor="middle" font-size="21.7">A</text>
<line x1="302.50" y1="1520.95" x2="321.50" y2="1520.95" stroke="#231f20" stroke-width="1.3"/>
<line x1="302.50" y1="1518.85" x2="302.50" y2="1523.05" stroke="#231f20" stroke-width="1.3"/>
<line x1="601.50" y1="1520.95" x2="613.60" y2="1520.95" stroke="#231f20" stroke-width="1.3"/>
<line x1="613.60" y1="1518.85" x2="613.60" y2="1523.05" stroke="#231f20" stroke-width="1.3"/>
<rect x="321.50" y="1511.90" width="161.25" height="18.10" fill="#ffffff" stroke="#231f20" stroke-width="1.3"/>
<rect x="482.75" y="1511.90" width="118.75" height="18.10" fill="#c8c9cb" stroke="#231f20" stroke-width="1.3"/>
<text transform="translate(282.55,1528.00) scale(0.997,1)" text-anchor="middle" font-size="21.7">AB</text>
<text transform="translate(623.90,1528.00) scale(0.997,1)" text-anchor="middle" font-size="21.7">A</text>
<line x1="376.20" y1="1543.65" x2="390.60" y2="1543.65" stroke="#231f20" stroke-width="1.3"/>
<line x1="376.20" y1="1541.55" x2="376.20" y2="1545.75" stroke="#231f20" stroke-width="1.3"/>
<line x1="538.50" y1="1543.65" x2="548.50" y2="1543.65" stroke="#231f20" stroke-width="1.3"/>
<line x1="548.50" y1="1541.55" x2="548.50" y2="1545.75" stroke="#231f20" stroke-width="1.3"/>
<rect x="390.60" y="1534.60" width="147.90" height="18.10" fill="#c8c9cb" stroke="#231f20" stroke-width="1.3"/>
<text transform="translate(362.45,1552.00) scale(0.997,1)" text-anchor="middle" font-size="21.7">C</text>
<text transform="translate(563.25,1552.00) scale(0.997,1)" text-anchor="middle" font-size="21.7">B</text>
<line x1="317.60" y1="1566.35" x2="335.50" y2="1566.35" stroke="#231f20" stroke-width="1.3"/>
<line x1="317.60" y1="1564.25" x2="317.60" y2="1568.45" stroke="#231f20" stroke-width="1.3"/>
<line x1="553.20" y1="1566.35" x2="563.20" y2="1566.35" stroke="#231f20" stroke-width="1.3"/>
<line x1="563.20" y1="1564.25" x2="563.20" y2="1568.45" stroke="#231f20" stroke-width="1.3"/>
<rect x="335.50" y="1557.30" width="147.25" height="18.10" fill="#ffffff" stroke="#231f20" stroke-width="1.3"/>
<rect x="482.75" y="1557.30" width="70.45" height="18.10" fill="#231f20" stroke="#231f20" stroke-width="1.3"/>
<text transform="translate(304.25,1574.70) scale(0.997,1)" text-anchor="middle" font-size="21.7">B</text>
<text transform="translate(576.55,1574.70) scale(0.997,1)" text-anchor="middle" font-size="21.7">B</text>
<line x1="382.80" y1="1588.85" x2="398.40" y2="1588.85" stroke="#231f20" stroke-width="1.3"/>
<line x1="382.80" y1="1586.75" x2="382.80" y2="1590.95" stroke="#231f20" stroke-width="1.3"/>
<line x1="529.80" y1="1588.85" x2="536.20" y2="1588.85" stroke="#231f20" stroke-width="1.3"/>
<line x1="536.20" y1="1586.75" x2="536.20" y2="1590.95" stroke="#231f20" stroke-width="1.3"/>
<rect x="398.40" y="1579.80" width="131.40" height="18.10" fill="#231f20" stroke="#231f20" stroke-width="1.3"/>
<text transform="translate(370.25,1596.70) scale(0.997,1)" text-anchor="middle" font-size="21.7">C</text>
<text transform="translate(550.15,1596.70) scale(0.997,1)" text-anchor="middle" font-size="21.7">B</text>
<line x1="482.75" y1="1298.10" x2="482.75" y2="1607.00" stroke="#231f20" stroke-width="1.3"/>
<line x1="221.39" y1="1607.00" x2="221.39" y2="1602.80" stroke="#231f20" stroke-width="1.3"/>
<text transform="translate(221.39,1630.70) scale(0.997,1)" text-anchor="middle" font-size="21.7">27</text>
<line x1="308.51" y1="1607.00" x2="308.51" y2="1602.80" stroke="#231f20" stroke-width="1.3"/>
<text transform="translate(308.51,1630.70) scale(0.997,1)" text-anchor="middle" font-size="21.7">18</text>
<line x1="395.63" y1="1607.00" x2="395.63" y2="1602.80" stroke="#231f20" stroke-width="1.3"/>
<text transform="translate(395.63,1630.70) scale(0.997,1)" text-anchor="middle" font-size="21.7">9</text>
<line x1="482.75" y1="1607.00" x2="482.75" y2="1602.80" stroke="#231f20" stroke-width="1.3"/>
<text transform="translate(482.75,1630.70) scale(0.997,1)" text-anchor="middle" font-size="21.7">0</text>
<line x1="570.80" y1="1607.00" x2="570.80" y2="1602.80" stroke="#231f20" stroke-width="1.3"/>
<text transform="translate(570.80,1630.70) scale(0.997,1)" text-anchor="middle" font-size="21.7">9</text>
<line x1="656.99" y1="1607.00" x2="656.99" y2="1602.80" stroke="#231f20" stroke-width="1.3"/>
<text transform="translate(656.99,1630.70) scale(0.997,1)" text-anchor="middle" font-size="21.7">18</text>
<text transform="translate(404.40,1660.70) scale(0.997,1)" text-anchor="middle" font-size="21.7">Branch number</text>
</svg>
</body></html>
